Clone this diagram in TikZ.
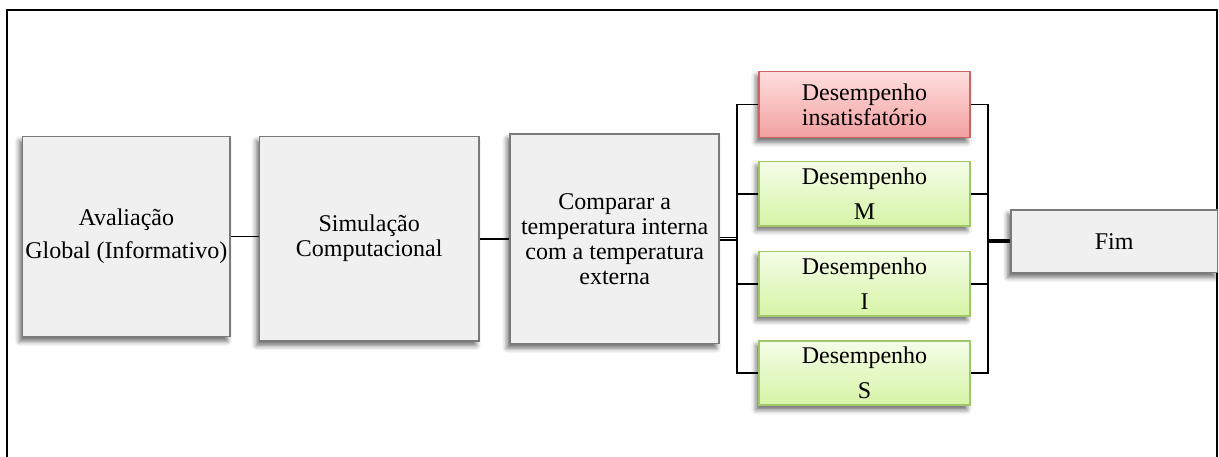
\documentclass[tikz,border=0pt]{standalone}
\usepackage{fontspec}
\setmainfont{Liberation Serif}
\usetikzlibrary{shadows.blur}
\definecolor{boxgray}{HTML}{F0F0F0}
\definecolor{edgegray}{HTML}{7A7A7A}
\definecolor{redtop}{HTML}{FFDEDE}
\definecolor{redbot}{HTML}{F2A0A0}
\definecolor{rededge}{HTML}{CC6664}
\definecolor{greentop}{HTML}{F4FDE8}
\definecolor{greenbot}{HTML}{D6F4A6}
\definecolor{greenedge}{HTML}{A2C66A}
\tikzset{
  txt/.style={font=\fontsize{24}{25}\selectfont, align=center, inner sep=2pt},
  soft/.style={blur shadow={shadow xshift=-3pt, shadow yshift=-4.5pt,
      shadow blur radius=5pt, shadow opacity=60}},
  graybox/.style={txt, soft, draw=edgegray, line width=1.7pt, fill=boxgray,
      anchor=north west},
  redbox/.style={txt, soft, draw=rededge, line width=1.7pt,
      top color=redtop, bottom color=redbot, anchor=north west,
      minimum width=210.7pt, minimum height=66pt},
  greenbox/.style={txt, soft, draw=greenedge, line width=1.7pt,
      top color=greentop, bottom color=greenbot, anchor=north west,
      minimum width=210.7pt, minimum height=64.3pt},
  link/.style={line width=1.9pt, black},
}
\begin{document}
\begin{tikzpicture}[x=1pt, y=-1pt]
\useasboundingbox (0,0) rectangle (1219,457);
% outer frame (open at the bottom edge of the page)
\draw[line width=2.4pt] (7,470) -- (7,10) -- (1217,10) -- (1217,470);

% main chain
\node[graybox, minimum width=207.6pt, minimum height=200pt] (aval) at (21.7,135.7)
  {Avaliação\\[8pt]Global (Informativo)};
\node[graybox, minimum width=219.3pt, minimum height=204.3pt] (simu) at (258.7,135.7)
  {Simulação\\Computacional};
\node[graybox, minimum width=209pt, minimum height=209.4pt] (comp) at (509.3,133.3)
  {Comparar a\\temperatura interna\\com a temperatura\\externa};

% performance outcomes
\node[redbox] (dins) at (758.3,70.7) {Desempenho\\insatisfatório};
\node[greenbox] (dm) at (758.3,160.7) {Desempenho\\[10pt]M};
\node[greenbox] (di) at (758.3,250.7) {Desempenho\\[10pt]I};
\node[greenbox] (ds) at (758.3,340) {Desempenho\\[10pt]S};

% end
\node[graybox, minimum width=206.7pt, minimum height=62.7pt] (fim) at (1010,209) {Fim};

% bus positions
\coordinate (busl) at (737.3,236.7);
\coordinate (busr) at (988.3,240);

% connectors
\draw[link] (aval.east) -- (aval.east -| simu.west);
\draw[link] (simu.east) -- (simu.east -| comp.west);
\draw[line width=1.4pt, double, double distance=1.2pt] (comp.east) -- (comp.east -| busl);
\draw[link] (dins.west) -- (dins.west -| busl) -- (ds.west -| busl) -- (ds.west);
\draw[link] (dm.west) -- (dm.west -| busl);
\draw[link] (di.west) -- (di.west -| busl);
\draw[link] (dins.east) -- (dins.east -| busr) -- (ds.east -| busr) -- (ds.east);
\draw[link] (dm.east) -- (dm.east -| busr);
\draw[link] (di.east) -- (di.east -| busr);
\draw[line width=4.2pt] (fim.west -| busr) -- (fim.west);
\end{tikzpicture}
\end{document}
